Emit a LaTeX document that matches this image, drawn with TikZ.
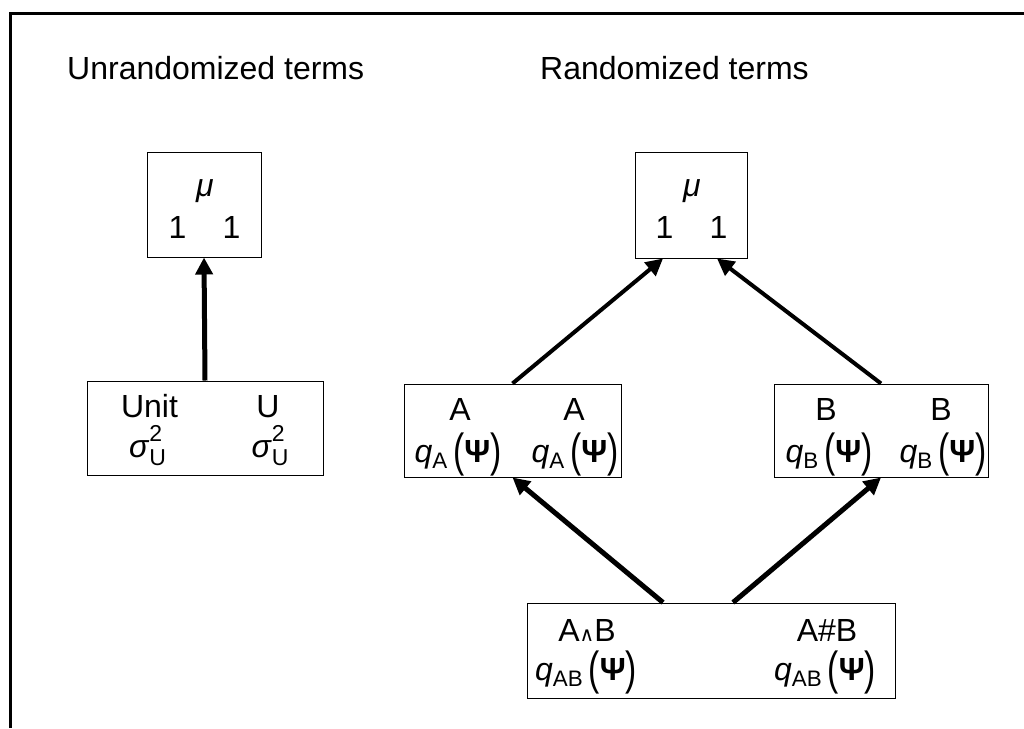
\documentclass[tikz,border=0pt]{standalone}
\usepackage{fontspec}
\setmainfont{Liberation Sans}
\newfontfamily\dejavu{DejaVu Sans}
\usetikzlibrary{arrows.meta}
\newcommand{\bigpar}[1]{\raisebox{-0.13em}{\scalebox{1.05}[1.45]{#1}}}
\newcommand{\qpsi}[1]{\textit{q}\textsubscript{#1}\,\bigpar{(}\textbf{Ψ}\bigpar{)}}
\newcommand{\sigU}{\textit{σ}\rlap{\raisebox{0.5em}{\fontsize{23}{23}\selectfont 2}}\raisebox{-0.28em}{\fontsize{23}{23}\selectfont U}}
\tikzset{
  box/.style={draw, line width=1pt, inner sep=0pt},
  lbl/.style={inner sep=0pt, anchor=base, font=\fontsize{32}{38}\selectfont},
  thickarrow/.style={line width=5pt, -{Triangle[length=17pt,width=17pt]}},
  diagarrow/.style={line width=4pt, -{Triangle[length=17pt,width=17pt]}},
}
\begin{document}
\begin{tikzpicture}[x=1pt,y=-1pt]
\useasboundingbox (0,0) rectangle (1024,728);
\fill[white] (0,0) rectangle (1024,728);
% frame
\draw[line width=3pt] (10,728) -- (10,13) -- (1024,13);
% titles
\node[lbl, anchor=base west] (t1) at (67,79) {Unrandomized terms};
\node[lbl, anchor=base west] (t2) at (540,79) {Randomized terms};
% left mu box
\node[box, minimum width=114pt, minimum height=105pt] (mu1) at (204,204.5) {};
\node[lbl] (mu1g) at (205,196) {\textit{μ}};
\node[lbl] (mu1a) at (177.5,238) {1};
\node[lbl] (mu1b) at (231.5,238) {1};
% unit box
\node[box, minimum width=236pt, minimum height=94pt] (unit) at (205,428) {};
\node[lbl] (unit1) at (149.5,417) {Unit};
\node[lbl] (unit2) at (268,417) {U};
\node[lbl] (unit3) at (147.5,457) {\sigU};
\node[lbl] (unit4) at (270,457) {\sigU};
% right mu box
\node[box, minimum width=112pt, minimum height=106pt] (mu2) at (691,205) {};
\node[lbl] (mu2g) at (692,196) {\textit{μ}};
\node[lbl] (mu2a) at (664.5,238) {1};
\node[lbl] (mu2b) at (718.5,238) {1};
% A box
\node[box, minimum width=217pt, minimum height=93pt] (A) at (512.5,430.5) {};
\node[lbl] (A1) at (460,420) {A};
\node[lbl] (A2) at (574,420) {A};
\node[lbl] (A3) at (458,462) {\qpsi{A}};
\node[lbl] (A4) at (575,462) {\qpsi{A}};
% B box
\node[box, minimum width=214pt, minimum height=93pt] (B) at (881,430.5) {};
\node[lbl] (B1) at (826,420) {B};
\node[lbl] (B2) at (941,420) {B};
\node[lbl] (B3) at (829,462) {\qpsi{B}};
\node[lbl] (B4) at (943,462) {\qpsi{B}};
% AB box
\node[box, minimum width=368pt, minimum height=95pt] (AB) at (711,650.5) {};
\node[lbl] (AB1) at (587,641) {A{\dejavu\fontsize{20}{20}\selectfont ∧}B};
\node[lbl] (AB2) at (586,680) {\qpsi{AB}};
\node[lbl] (AB3) at (827,641) {A\#B};
\node[lbl] (AB4) at (825,680) {\qpsi{AB}};
% arrows
\draw[thickarrow] (unit.north) -- (mu1.south);
\draw[diagarrow] (A.north) -- ([xshift=-28pt]mu2.south);
\draw[diagarrow] (B.north) -- ([xshift=26pt]mu2.south);
\draw[thickarrow] ([xshift=-48pt]AB.north) -- (A.south);
\draw[thickarrow] ([xshift=22pt]AB.north) -- (B.south);
\end{tikzpicture}
\end{document}
